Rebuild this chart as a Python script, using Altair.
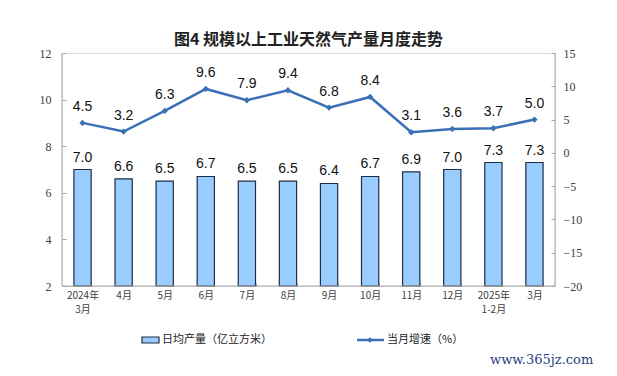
import altair as alt
import pandas as pd

months = ["2024年\n3月", "4月", "5月", "6月", "7月", "8月", "9月", "10月", "11月", "12月", "2025年\n1-2月", "3月"]
daily_output = [7.0, 6.6, 6.5, 6.7, 6.5, 6.5, 6.4, 6.7, 6.9, 7.0, 7.3, 7.3]
growth = [4.5, 3.2, 6.3, 9.6, 7.9, 9.4, 6.8, 8.4, 3.1, 3.6, 3.7, 5.0]
left_ticks = [2, 4, 6, 8, 10, 12]
right_ticks = [-20, -15, -10, -5, 0, 5, 10, 15]

df = pd.DataFrame({"month": months, "output": daily_output, "growth": growth})

W, H = 493, 233
CJK = "Noto Sans CJK SC"
SERIF = "Liberation Serif"
AXC = "#A6A6A6"

xenc = alt.X("month:N", sort=None, title=None,
             scale=alt.Scale(paddingInner=0.58, paddingOuter=0.29),
             axis=alt.Axis(labelAngle=0, labelExpr="split(datum.label, '\\n')",
                           labelFont=CJK, labelFontSize=10, labelColor="#404040",
                           labelPadding=4, domain=False, offset=-3, tickColor=AXC,
                           tickBand="extent", tickSize=3, labelLineHeight=14))

yleft = alt.Y("output:Q", title=None,
              scale=alt.Scale(domain=[2, 12], zero=False, nice=False),
              axis=alt.Axis(values=left_ticks, orient="left", grid=False,
                            domain=False, offset=-4, tickSize=4, tickColor=AXC,
                            labelFont=SERIF, labelFontSize=12, labelOverlap=False,
                            labelColor="#404040", labelPadding=11))
yright = alt.Y("growth:Q", title=None,
               scale=alt.Scale(domain=[-20, 15], nice=False, zero=False),
               axis=alt.Axis(values=right_ticks, orient="right", grid=False,
                             domain=False, offset=-4, tickSize=4, tickColor=AXC,
                             labelFont=SERIF, labelFontSize=12, labelOverlap=False,
                             labelColor="#404040", labelPadding=8))

base = alt.Chart(df)

bars = base.mark_bar(fill="#99CCFF", stroke="#1F2D45", strokeWidth=1.2).encode(
    x=xenc, y=yleft, y2=alt.datum(2),
)
bar_text = base.mark_text(dy=-12, font="Liberation Sans", fontSize=14, color="#111111").encode(
    x=xenc, y=yleft, text=alt.Text("output:Q", format=".1f"),
)
left = alt.layer(bars, bar_text)

line = base.mark_line(color="#3A70B5", strokeWidth=2.5).encode(x=xenc, y=yright)
pts = base.mark_point(shape="diamond", filled=True, size=40, color="#3A70B5", opacity=1).encode(
    x=xenc, y=yright)
line_text = base.mark_text(dy=-16, font="Liberation Sans", fontSize=14, color="#111111").encode(
    x=xenc, y=yright, text=alt.Text("growth:Q", format=".1f"),
)
right = alt.layer(line, pts, line_text)

frame = alt.Chart(pd.DataFrame({"a": [0]}))
ldom = frame.mark_rule(color=AXC).encode(x=alt.value(0), y=alt.value(0), y2=alt.value(H))
rdom = frame.mark_rule(color=AXC).encode(x=alt.value(W), y=alt.value(0), y2=alt.value(H))
bdom = frame.mark_rule(color=AXC).encode(x=alt.value(0), x2=alt.value(W), y=alt.value(H))

title = frame.mark_text(font=CJK, fontSize=16, fontWeight="bold", color="#222222").encode(
    x=alt.value(W / 2), y=alt.value(-13), text=alt.value("图4  规模以上工业天然气产量月度走势"))

leg_rect = frame.mark_rect(fill="#99CCFF", stroke="#1F2D45", strokeWidth=1.2).encode(
    x=alt.value(80), x2=alt.value(97), y=alt.value(284), y2=alt.value(290))
leg_t1 = frame.mark_text(font=CJK, fontSize=11, align="left", color="#222222").encode(
    x=alt.value(100), y=alt.value(287), text=alt.value("日均产量（亿立方米）"))
leg_line = frame.mark_rule(color="#3A70B5", strokeWidth=2.5).encode(
    x=alt.value(295), x2=alt.value(322), y=alt.value(287))
leg_pt = frame.mark_point(shape="diamond", filled=True, size=30, color="#3A70B5", opacity=1).encode(
    x=alt.value(308), y=alt.value(287))
leg_t2 = frame.mark_text(font=CJK, fontSize=11, align="left", color="#222222").encode(
    x=alt.value(325), y=alt.value(287), text=alt.value("当月增速（%）"))
wm = frame.mark_text(font="DejaVu Serif", fontSize=13, align="left", color="#1F3F7F").encode(
    x=alt.value(428), y=alt.value(307), text=alt.value("www.365jz.com"))

deco = alt.layer(ldom, rdom, bdom, title, leg_rect, leg_t1, leg_line, leg_pt, leg_t2, wm)

chart = alt.layer(left, right, deco).resolve_scale(y="independent").properties(
    width=W, height=H,
    autosize=alt.AutoSizeParams(type="none"),
    padding={"left": 54, "top": 45, "right": 54, "bottom": 82},
).configure_view(stroke=None).configure(background="white")

chart.save("out.html", embed_options={"renderer": "svg", "actions": False})
